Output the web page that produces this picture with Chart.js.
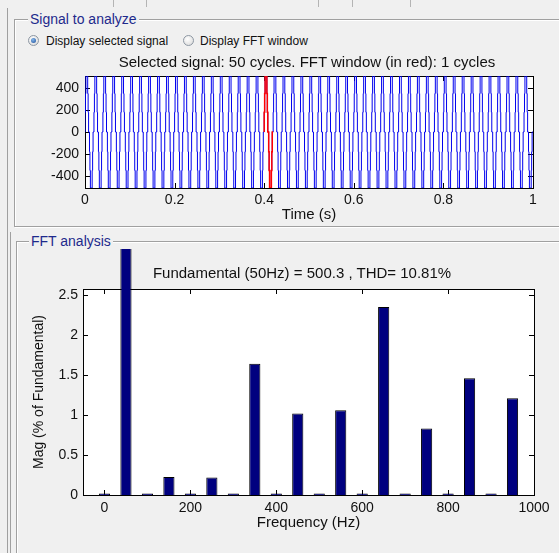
<!DOCTYPE html>
<html>
<head>
<meta charset="utf-8">
<title>FFT analysis</title>
<script src="https://cdn.jsdelivr.net/npm/chart.js@4.4.0/dist/chart.umd.min.js"></script>
<style>
  html, body { margin: 0; padding: 0; }
  body {
    position: relative; width: 559px; height: 553px; overflow: hidden;
    background: #f0f0f0; font-family: "Liberation Sans", Arial, sans-serif; color: #111;
  }
  .frame { position: absolute; border: 1px solid #a0a0a0; box-shadow: 1px 1px 0 #fff, inset 1px 1px 0 #fff; }
  .vline { position: absolute; width: 1px; background: #a0a0a0; }
  .notch { position: absolute; top: 0; width: 1px; height: 7px; background: #b4b4b4; }
  .legend { position: absolute; background: #f0f0f0; color: #1e2a8c; font-size: 14px; line-height: 16px; padding: 0 2px; white-space: nowrap; }
  .radio {
    position: absolute; width: 11px; height: 11px; box-sizing: border-box; border-radius: 50%;
    border: 1px solid #8d97a3; background: radial-gradient(circle at 40% 35%, #ffffff, #d6d6d6);
  }
  .radio.on::after {
    content: ''; position: absolute; left: 2px; top: 2px; width: 5px; height: 5px; border-radius: 50%;
    background: radial-gradient(circle at 40% 35%, #86b8ec, #1b4d98);
  }
  .label { position: absolute; font-size: 12px; line-height: 14px; white-space: nowrap; }
  .title { position: absolute; font-size: 15px; line-height: 18px; white-space: nowrap; transform: translateX(-50%); }
  canvas { position: absolute; left: 0; }
</style>
</head>
<body>
  <div class="notch" style="left:113px"></div>
  <div class="notch" style="left:146px"></div>
  <div class="notch" style="left:318px"></div>
  <div class="notch" style="left:352px"></div>
  <div class="notch" style="left:410px"></div>
  <div class="vline" style="left:7px; top:8px; height:545px"></div>
  <div class="vline" style="left:10px; top:232px; height:321px"></div>

  <div class="frame" style="left:14px; top:19px; width:600px; height:206px"></div>
  <div class="frame" style="left:16px; top:241px; width:600px; height:400px"></div>

  <canvas id="signal-chart" width="559" height="160" style="top:70px"></canvas>
  <canvas id="fft-chart" width="559" height="313" style="top:240px"></canvas>

  <div class="legend" style="left:28px; top:11px">Signal to analyze</div>
  <div class="legend" style="left:29px; top:233px">FFT analysis</div>

  <div class="radio on" style="left:28px; top:35px"></div>
  <div class="label" style="left:46px; top:34px">Display selected signal</div>
  <div class="radio" style="left:183px; top:35px"></div>
  <div class="label" style="left:200px; top:34px">Display FFT window</div>

  <div class="title" style="left:307px; top:53px">Selected signal: 50 cycles. FFT window (in red): 1 cycles</div>
  <div class="title" style="left:302px; top:264px">Fundamental (50Hz) = 500.3 , THD= 10.81%</div>

<script>
// Signal: one period of the staircase voltage, repeated over the record
const signalCycles = 50;
const signalPeriod = 0.02; // s
const cycleLevels = [0, 180, 350, 510, 510, 510, 510, 350, 180, 0,
                     0, -180, -350, -510, -510, -510, -510, -350, -180, 0];
const fftWindowStart = 0.4; // s
const fftWindowCycles = 1;

const timeTicks = [0, 0.2, 0.4, 0.6, 0.8, 1];
const signalTicks = [-400, -200, 0, 200, 400];

// Harmonic spectrum (% of fundamental)
const harmonicFreqs = [0, 50, 100, 150, 200, 250, 300, 350, 400, 450,
                       500, 550, 600, 650, 700, 750, 800, 850, 900, 950];
const harmonicMags = [0.02, 100, 0.02, 0.225, 0.02, 0.22, 0.02, 1.64, 0.02, 1.02,
                      0.02, 1.06, 0.02, 2.35, 0.02, 0.83, 0.02, 1.46, 0.02, 1.21];

const freqTicks = [0, 200, 400, 600, 800, 1000];
const magTicks = [0, 0.5, 1, 1.5, 2, 2.5];

const samplesPerCycle = cycleLevels.length;
const dt = signalPeriod / samplesPerCycle;
const signalPoints = [];
for (let c = 0; c < signalCycles; c++) {
    cycleLevels.forEach((v, i) => {
        signalPoints.push({ x: (c * samplesPerCycle + i) * dt, y: v });
    });
}
signalPoints.push({ x: signalCycles * signalPeriod, y: cycleLevels[0] });

const windowEnd = fftWindowStart + fftWindowCycles * signalPeriod;
const windowPoints = signalPoints.filter(p => p.x >= fftWindowStart - 1e-9 && p.x <= windowEnd + 1e-9);

const tickFont = { family: '"Liberation Sans", Arial, sans-serif', size: 14 };
const titleFont = { family: '"Liberation Sans", Arial, sans-serif', size: 15 };

// white plot area, black box and inward tick marks on all four sides
const boxedAxes = {
    id: 'boxedAxes',
    beforeDraw(chart) {
        const { ctx, chartArea: a } = chart;
        ctx.save();
        ctx.fillStyle = '#ffffff';
        ctx.fillRect(a.left, a.top, a.right - a.left, a.bottom - a.top);
        ctx.restore();
    },
    beforeDatasetsDraw(chart) {
        const { ctx, chartArea: a, scales: { x, y } } = chart;
        const len = 5;
        ctx.save();
        ctx.strokeStyle = '#000';
        ctx.lineWidth = 1;
        ctx.beginPath();
        x.ticks.forEach(t => {
            const px = Math.round(x.getPixelForValue(t.value)) + 0.5;
            ctx.moveTo(px, a.bottom); ctx.lineTo(px, a.bottom - len);
            ctx.moveTo(px, a.top); ctx.lineTo(px, a.top + len);
        });
        y.ticks.forEach(t => {
            const py = Math.round(y.getPixelForValue(t.value)) + 0.5;
            ctx.moveTo(a.left, py); ctx.lineTo(a.left + len, py);
            ctx.moveTo(a.right, py); ctx.lineTo(a.right - len, py);
        });
        ctx.stroke();
        ctx.strokeRect(Math.round(a.left) + 0.5, Math.round(a.top) + 0.5,
                       Math.round(a.right - a.left), Math.round(a.bottom - a.top));
        ctx.restore();
    }
};

function xAxis(min, max, ticks, height, title, titlePad, tickPad) {
    return {
        type: 'linear', min: min, max: max, offset: false,
        afterBuildTicks: s => { s.ticks = ticks.map(v => ({ value: v })); },
        afterFit: s => { s.height = height; s.paddingLeft = 0; s.paddingRight = 0; },
        grid: { display: false, drawTicks: false },
        border: { display: false },
        ticks: { padding: tickPad, color: '#111', font: tickFont, maxRotation: 0, autoSkip: false, callback: v => String(v) },
        title: { display: true, text: title, color: '#111', font: titleFont, padding: { top: 0, bottom: titlePad } }
    };
}

function yAxis(min, max, ticks, width, tickPad) {
    return {
        type: 'linear', min: min, max: max,
        afterBuildTicks: s => { s.ticks = ticks.map(v => ({ value: v })); },
        afterFit: s => { s.width = width; s.paddingTop = 0; s.paddingBottom = 0; },
        grid: { display: false, drawTicks: false },
        border: { display: false },
        ticks: { padding: tickPad, color: '#111', font: tickFont, autoSkip: false, callback: v => String(v) }
    };
}

new Chart(document.getElementById('signal-chart'), {
    type: 'line',
    data: {
        datasets: [
            { data: signalPoints, borderColor: '#0000ee', borderWidth: 1, pointRadius: 0, stepped: 'after', order: 1 },
            { data: windowPoints, borderColor: '#ff0000', borderWidth: 1.5, pointRadius: 0, stepped: 'after', order: 0 }
        ]
    },
    options: {
        responsive: false,
        animation: false,
        events: [],
        layout: { padding: { top: 6, right: 26, left: 0, bottom: 0 } },
        plugins: { legend: { display: false }, tooltip: { enabled: false } },
        scales: {
            x: xAxis(0, 1, timeTicks, 42, 'Time (s)', 6, 4),
            y: yAxis(-510, 510, signalTicks, 85, 6)
        }
    },
    plugins: [boxedAxes]
});

const magAxis = yAxis(0, 2.575, magTicks, 83, 5);
magAxis.title = {
    display: true, text: 'Mag (% of Fundamental)', color: '#111',
    font: { family: '"Liberation Sans", Arial, sans-serif', size: 14 },
    padding: { top: 31, bottom: 0 }
};

new Chart(document.getElementById('fft-chart'), {
    type: 'bar',
    data: {
        datasets: [{
            data: harmonicFreqs.map((f, i) => ({ x: f, y: harmonicMags[i] })),
            backgroundColor: '#00007f',
            borderColor: '#000000',
            borderWidth: 1,
            barPercentage: 0.52,
            categoryPercentage: 1,
            clip: { left: 0, top: 40, right: 0, bottom: 0 }
        }]
    },
    options: {
        responsive: false,
        animation: false,
        events: [],
        layout: { padding: { top: 49, right: 25, left: 0, bottom: 0 } },
        plugins: { legend: { display: false }, tooltip: { enabled: false } },
        scales: {
            x: xAxis(-50, 1000, freqTicks, 58, 'Frequency (Hz)', 21, 5),
            y: magAxis
        }
    },
    plugins: [boxedAxes]
});
</script>
</body>
</html>
